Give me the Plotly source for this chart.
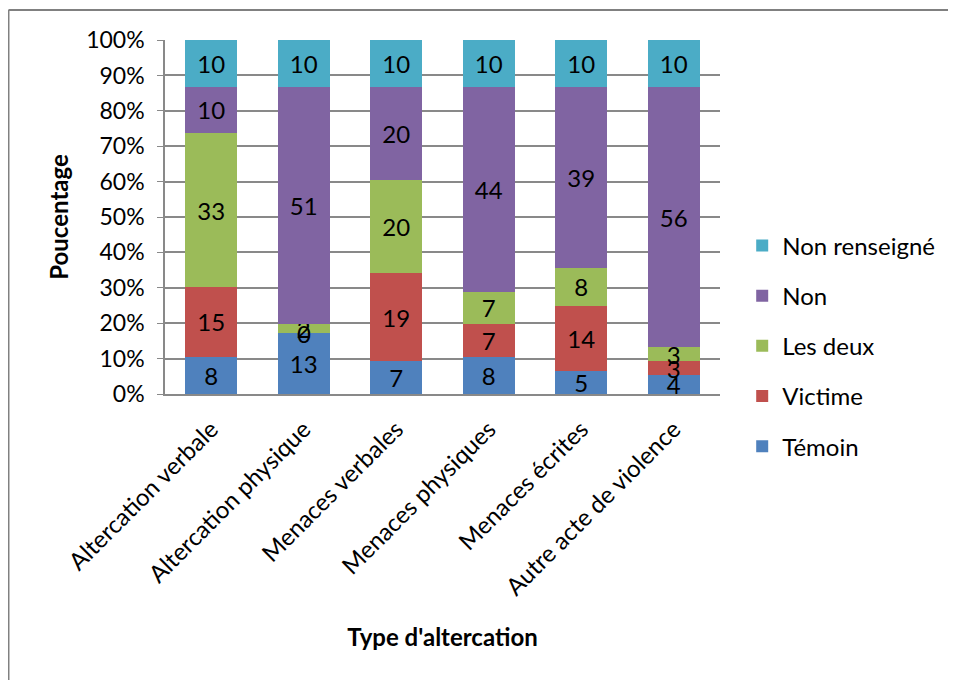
import plotly.graph_objects as go

categories = ["Altercation verbale", "Altercation physique", "Menaces verbales",
              "Menaces physiques", "Menaces écrites", "Autre acte de violence"]

temoin = [8, 13, 7, 8, 5, 4]
victime = [15, 0, 19, 7, 14, 3]
les_deux = [33, 2, 20, 7, 8, 3]
non = [10, 51, 20, 44, 39, 56]
non_renseigne = [10, 10, 10, 10, 10, 10]

y_ticks = list(range(0, 101, 10))
y_ticktext = [f"{t}%" for t in y_ticks]

series = [
    ("Témoin", temoin, "#4F81BD"),
    ("Victime", victime, "#C0504D"),
    ("Les deux", les_deux, "#9BBB59"),
    ("Non", non, "#8064A2"),
    ("Non renseigné", non_renseigne, "#4BACC6"),
]

FONT = "Lato, Open Sans, sans-serif"
GREY = "#898989"

fig = go.Figure()
for i, (name, vals, color) in enumerate(series):
    fig.add_trace(go.Bar(
        x=categories, y=vals, name=name, legendgroup=name,
        legendrank=1000 - i,
        marker=dict(color=color, line=dict(width=0)),
        text=[str(v) for v in vals],
        textposition="inside", insidetextanchor="middle",
        textangle=0, constraintext="none",
        textfont=dict(family=FONT, size=24, color="black"),
        cliponaxis=False,
    ))

# zero-height segments get no bar text, so label them separately
totals = [sum(s[1][i] for s in series) for i in range(len(categories))]
for si, (name, vals, color) in enumerate(series):
    for i, v in enumerate(vals):
        if v == 0:
            below = sum(series[k][1][i] for k in range(si))
            fig.add_annotation(x=categories[i], y=100 * below / totals[i],
                               text="0", showarrow=False,
                               font=dict(family=FONT, size=24, color="black"))

# outer frame of the original (only top and left edges are visible)
fig.add_shape(type="line", xref="paper", yref="paper",
              x0=-0.282, x1=1.6, y0=1.085, y1=1.085,
              line=dict(color="#808080", width=2), layer="below")
fig.add_shape(type="line", xref="paper", yref="paper",
              x0=-0.282, x1=-0.282, y0=1.085, y1=-0.9,
              line=dict(color="#808080", width=2), layer="below")

# page body adds an 8px offset, so the figure is 8px smaller each way
fig.update_layout(
    barmode="stack", barnorm="percent", bargap=0.44,
    width=948, height=672,
    margin=dict(l=157, r=236, t=32, b=286, autoexpand=False),
    plot_bgcolor="white", paper_bgcolor="white",
    font=dict(family=FONT, size=23, color="black"),
    uniformtext=dict(mode="show", minsize=24),
    legend=dict(traceorder="grouped", x=1.04, y=0.136,
                yanchor="middle", xanchor="left", font=dict(size=24),
                tracegroupgap=16, itemwidth=30),
    showlegend=True,
)
fig.update_yaxes(
    range=[0, 100.02], tickvals=y_ticks, ticktext=y_ticktext,
    automargin=False,
    showgrid=True, gridcolor=GREY, gridwidth=1.5, zeroline=False,
    showline=True, linecolor=GREY, linewidth=1.5,
    ticks="outside", ticklen=6, tickcolor=GREY, ticklabelstandoff=8,
    tickfont=dict(size=23),
    title=dict(text="<b>Poucentage</b>", font=dict(size=24), standoff=11),
)
fig.update_xaxes(
    tickangle=-45, showline=True, linecolor=GREY, linewidth=1.5,
    automargin=False,
    ticks="outside", ticklen=10, tickcolor="rgba(0,0,0,0)",
    tickfont=dict(size=24),
    title=dict(text="<b>Type d'altercation</b>", font=dict(size=24), standoff=30),
)

fig.write_html("out.html")
